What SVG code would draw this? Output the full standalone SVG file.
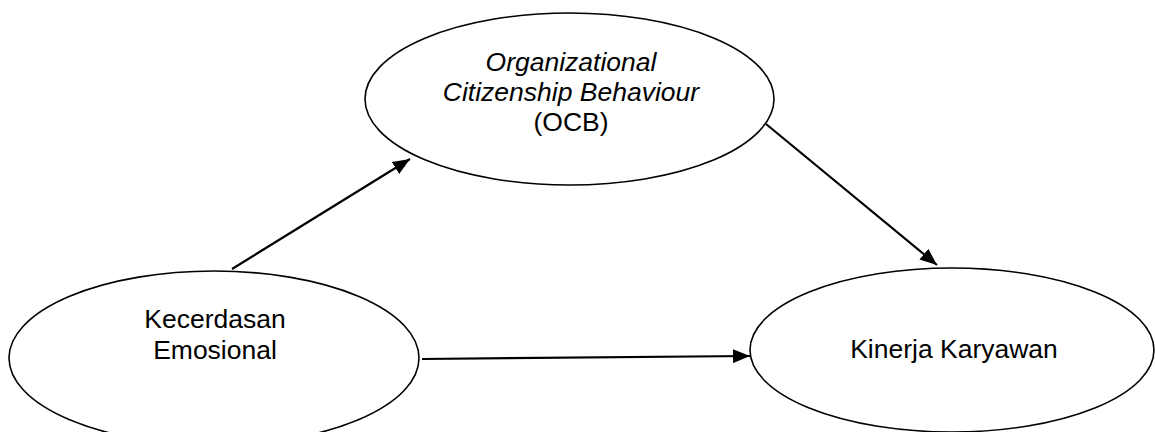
<svg xmlns="http://www.w3.org/2000/svg" width="1155" height="432" viewBox="0 0 1155 432">
  <style>
    .node { fill: #ffffff; stroke: #000000; stroke-width: 1.6; }
    .label { font-family: "Liberation Sans", Arial, sans-serif; font-size: 26.5px; fill: #000000; text-anchor: middle; }
    .it { font-style: italic; }
    .edge { stroke: #000000; stroke-width: 2.2; fill: none; marker-end: url(#arrow); }
  </style>
  <defs>
    <marker id="arrow" markerUnits="userSpaceOnUse" markerWidth="18" markerHeight="14" refX="17" refY="7" orient="auto">
      <path d="M0,0 L17,7 L0,14 Z" fill="#000000"/>
    </marker>
  </defs>
  <rect width="1155" height="432" fill="#ffffff"/>

  <g id="node-ocb">
    <ellipse class="node" cx="569.5" cy="99" rx="204.5" ry="86"/>
    <text class="label" x="571" y="71"><tspan class="it">Organizational</tspan></text>
    <text class="label" x="571" y="101"><tspan class="it">Citizenship Behaviour</tspan></text>
    <text class="label" x="571" y="131">(OCB)</text>
  </g>

  <g id="node-kecerdasan">
    <ellipse class="node" cx="214" cy="358" rx="205" ry="87"/>
    <text class="label" x="215" y="328">Kecerdasan</text>
    <text class="label" x="215" y="359">Emosional</text>
  </g>

  <g id="node-kinerja">
    <ellipse class="node" cx="952" cy="350" rx="202" ry="82"/>
    <text class="label" x="954" y="358">Kinerja Karyawan</text>
  </g>

  <g id="connectors">
    <line class="edge" x1="232" y1="269" x2="410" y2="159"/>
    <line class="edge" x1="766" y1="124" x2="937" y2="265"/>
    <line class="edge" x1="422" y1="359" x2="750" y2="356"/>
  </g>
</svg>
